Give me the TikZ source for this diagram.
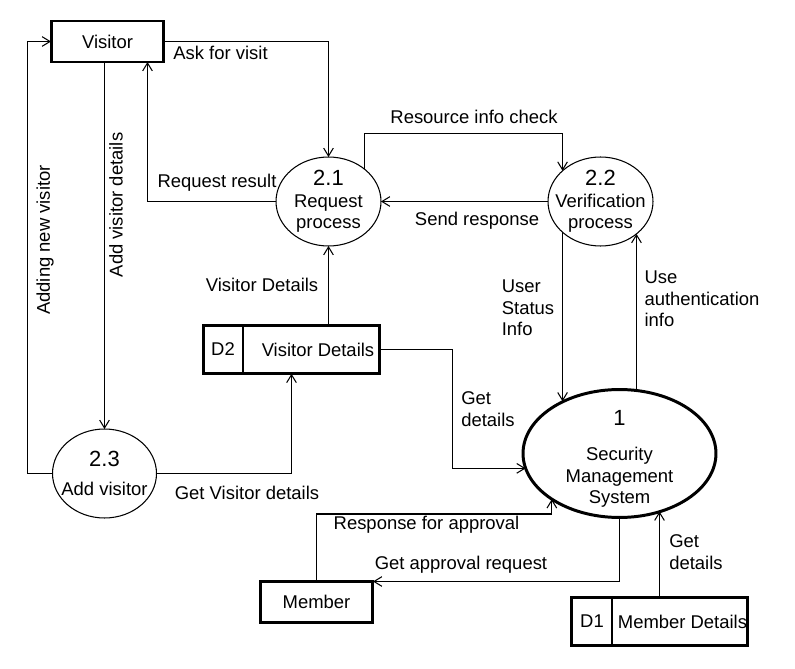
\documentclass[tikz,border=0pt]{standalone}
\usepackage{fontspec}
\setmainfont{Liberation Sans}
\usepackage{tikz}
\usetikzlibrary{shapes.geometric,arrows.meta,positioning,calc}

\newcommand{\pnum}[1]{{\fontsize{12.5}{14}\selectfont #1}}

\begin{document}
\begin{tikzpicture}[x=0.02cm, y=-0.02cm,
    every node/.style={font=\fontsize{10.5}{12.2}\selectfont},
    entity/.style={draw, line width=1.7pt, outer sep=0pt, minimum width=2.26cm, minimum height=0.82cm, inner sep=0pt},
    store/.style={draw, line width=1.7pt, outer sep=0pt, minimum width=3.54cm, minimum height=0.97cm, inner sep=0pt},
    proc/.style={draw, ellipse, line width=0.6pt, outer sep=0pt, inner sep=0pt, minimum width=2.1cm, minimum height=1.78cm},
    proctext/.style={align=center, inner sep=0pt},
    flow/.style={draw, line width=0.6pt, -{Straight Barb[length=4.5pt,width=5.5pt]}},
    lbl/.style={align=left, inner sep=0pt}]
    \useasboundingbox (0,0) rectangle (795,669);

    % External entities
    \node[entity] (visitor) at (107.5,41.5) {Visitor};
    \node[entity] (member) at (316.5,602) {Member};

    % Processes
    \node[proc, label={[proctext]center:{\pnum{2.1}\\Request\\process}}] (p21) at (328.5,201.5) {};
    \node[proc, label={[proctext]center:{\pnum{2.2}\\Verification\\process}}] (p22) at (600.5,201.5) {};
    \node[proc, minimum width=2.08cm, label={[proctext]center:{\pnum{2.3}\\[4pt]Add visitor}}] (p23) at (104.5,473.5) {};
    \node[proc, line width=1.7pt, minimum width=3.86cm, minimum height=2.56cm,
        label={[proctext, yshift=-3pt]center:{\pnum{1}\\[8pt]Security\\Management\\System}}] (sms) at (619.5,453.5) {};

    % Data stores
    \node[store] (d2) at (291.5,349.5) {};
    \draw[line width=0.6pt] ($(d2.north west)+(40,0)$) -- ($(d2.south west)+(40,0)$);
    \node (d2id) at ($(d2.west)+(20,0)$) {D2};
    \node (d2name) at ($(d2.east)+(-62,0)$) {Visitor Details};
    \node[store] (d1) at (659.5,621.5) {};
    \draw[line width=0.6pt] ($(d1.north west)+(41,0)$) -- ($(d1.south west)+(41,0)$);
    \node (d1id) at ($(d1.west)+(21,0)$) {D1};
    \node (d1name) at ($(d1.east)+(-65.5,0)$) {Member Details};

    % Data flows
    \draw[flow] (visitor.east) -| (p21.north);
    \draw[flow] (p21.west) -| ($(visitor.south east)+(-16.5,0)$);
    \draw[flow] (p23.north |- visitor.south) -- (p23.north);
    \draw[flow] (p23.west) -- ++(-25,0) |- (visitor.west);
    \draw[flow] (p21.42) -- ++(0,-35.6) -| (p22.141);
    \draw[flow] (p22.west) -- (p21.east);
    \draw[flow] (p22.219) -- (p22.219 |- sms.137);
    \draw[flow] (p22.-42 |- sms.north) -- (p22.-42);
    \draw[flow] (d2.north -| p21.south) -- (p21.south);
    \draw[flow] (d2.east) -- ++(72.5,0) |- (sms.189.7);
    \draw[flow] (p23.east) -| (d2.south);
    \draw[flow] (member.north) -- ++(0,-67.5) -| (sms.214.5);
    \draw[flow] (sms.south) |- (member.north east);
    \draw[flow] (d1.north) -- (d1.north |- sms.-55);

    % Flow labels
    \node (lask) at (220.5,53) {Ask for visit};
    \node (lresult) at (217,183) {Request result};
    \node[rotate=90] (ladding) at (45,240) {Adding new visitor};
    \node[rotate=90] (ladd) at (116,205) {Add visitor details};
    \node (lcheck) at (474,117) {Resource info check};
    \node (lsend) at (477,221) {Send response};
    \node[lbl] (lstatus) at (528,308) {User\\Status\\Info};
    \node[lbl] (lauth) at (702,299) {Use\\authentication\\info};
    \node (lvd) at (262,285) {Visitor Details};
    \node[lbl] (lget2) at (488,409) {Get\\details};
    \node (lgetvd) at (247,493) {Get Visitor details};
    \node (lresp) at (426.5,525) {Response for approval};
    \node (lreq) at (461,565) {Get approval request};
    \node[lbl] (lget1) at (696,552) {Get\\details};
\end{tikzpicture}
\end{document}
